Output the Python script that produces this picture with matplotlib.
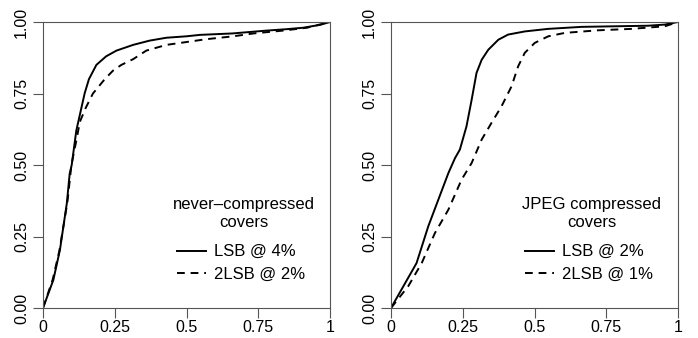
import matplotlib
matplotlib.use("Agg")
import matplotlib.pyplot as plt
from matplotlib.lines import Line2D

plt.rcParams['font.family'] = ['Liberation Sans', 'DejaVu Sans']

# left panel: never-compressed covers
nc_lsb_x = [0, 0.036, 0.059, 0.083, 0.093, 0.100, 0.116, 0.145, 0.160, 0.186,
            0.220, 0.256, 0.314, 0.372, 0.430, 0.500, 0.547, 0.660, 0.780,
            0.850, 0.907, 0.965, 1.0]
nc_lsb_y = [0, 0.098, 0.203, 0.366, 0.470, 0.500, 0.620, 0.750, 0.800, 0.850,
            0.880, 0.900, 0.920, 0.935, 0.945, 0.950, 0.955, 0.960, 0.970,
            0.975, 0.980, 0.990, 1.0]
nc_2lsb_x = [0, 0.034, 0.057, 0.085, 0.099, 0.119, 0.128, 0.149, 0.174, 0.215,
             0.244, 0.273, 0.314, 0.360, 0.430, 0.500, 0.570, 0.663, 0.733,
             0.837, 0.920, 1.0]
nc_2lsb_y = [0, 0.100, 0.200, 0.370, 0.500, 0.600, 0.650, 0.700, 0.750, 0.800,
             0.830, 0.850, 0.870, 0.900, 0.920, 0.930, 0.940, 0.950, 0.960,
             0.970, 0.980, 1.0]

# right panel: JPEG compressed covers
jp_lsb_x = [0, 0.089, 0.130, 0.165, 0.200, 0.223, 0.240, 0.263, 0.281, 0.298,
            0.316, 0.339, 0.374, 0.408, 0.466, 0.548, 0.664, 0.780, 0.896,
            0.954, 1.0]
jp_lsb_y = [0, 0.157, 0.286, 0.379, 0.472, 0.524, 0.554, 0.635, 0.728, 0.822,
            0.868, 0.903, 0.938, 0.956, 0.967, 0.976, 0.983, 0.985, 0.987,
            0.991, 1.0]
jp_2lsb_x = [0, 0.060, 0.107, 0.153, 0.200, 0.246, 0.281, 0.316, 0.350, 0.385,
             0.420, 0.443, 0.466, 0.501, 0.548, 0.606, 0.722, 0.838, 0.954, 1.0]
jp_2lsb_y = [0, 0.076, 0.157, 0.262, 0.344, 0.449, 0.507, 0.589, 0.647, 0.705,
             0.775, 0.845, 0.892, 0.927, 0.950, 0.962, 0.971, 0.976, 0.985, 1.0]

xticks = [0, 0.25, 0.5, 0.75, 1]
xticklabels = ["0", "0.25", "0.5", "0.75", "1"]
yticks = [0, 0.25, 0.5, 0.75, 1]
yticklabels = ["0.00", "0.25", "0.50", "0.75", "1.00"]

panels = [
    ("never\u2013compressed\ncovers", nc_lsb_x, nc_lsb_y, nc_2lsb_x, nc_2lsb_y,
     ["LSB @ 4%", "2LSB @ 2%"]),
    ("JPEG compressed\ncovers", jp_lsb_x, jp_lsb_y, jp_2lsb_x, jp_2lsb_y,
     ["LSB @ 2%", "2LSB @ 1%"]),
]

fig = plt.figure(figsize=(6.98, 3.38), dpi=100)
lefts = [43 / 698, 391 / 698]
axcol = "#555555"

for left, (title, x1, y1, x2, y2, labels) in zip(lefts, panels):
    ax = fig.add_axes([left, 30 / 338, 287 / 698, 286 / 338])
    ax.plot(x1, y1, color="black", lw=1.4, solid_joinstyle="round")
    ax.plot(x2, y2, color="black", lw=1.4, dashes=(4, 3))
    ax.set_xlim(0, 1)
    ax.set_ylim(0, 1)
    ax.set_xticks(xticks)
    ax.set_xticklabels(xticklabels)
    ax.set_yticks(yticks)
    ax.set_yticklabels(yticklabels, rotation=90, va="center")
    for s in ax.spines.values():
        s.set_color(axcol)
        s.set_linewidth(0.8)
    ax.tick_params(direction="out", length=7, width=0.8, color=axcol,
                   labelsize=11.5, labelcolor="black")
    ax.tick_params(axis="x", pad=2)
    ax.tick_params(axis="y", pad=3)

    # legend title as plain text, entries below it
    ax.text(0.70, 0.33, title, transform=ax.transAxes, ha="center",
            va="center", fontsize=12, linespacing=1.25)
    handles = [Line2D([], [], color="black", lw=1.4),
               Line2D([], [], color="black", lw=1.4, dashes=(4, 3))]
    ax.legend(handles, labels, frameon=False,
              loc="center", bbox_to_anchor=(0.69, 0.157),
              fontsize=12, handlelength=1.75,
              handletextpad=0.5, labelspacing=0.45, borderaxespad=0,
              borderpad=0)

fig.savefig("out.png", dpi=100)
